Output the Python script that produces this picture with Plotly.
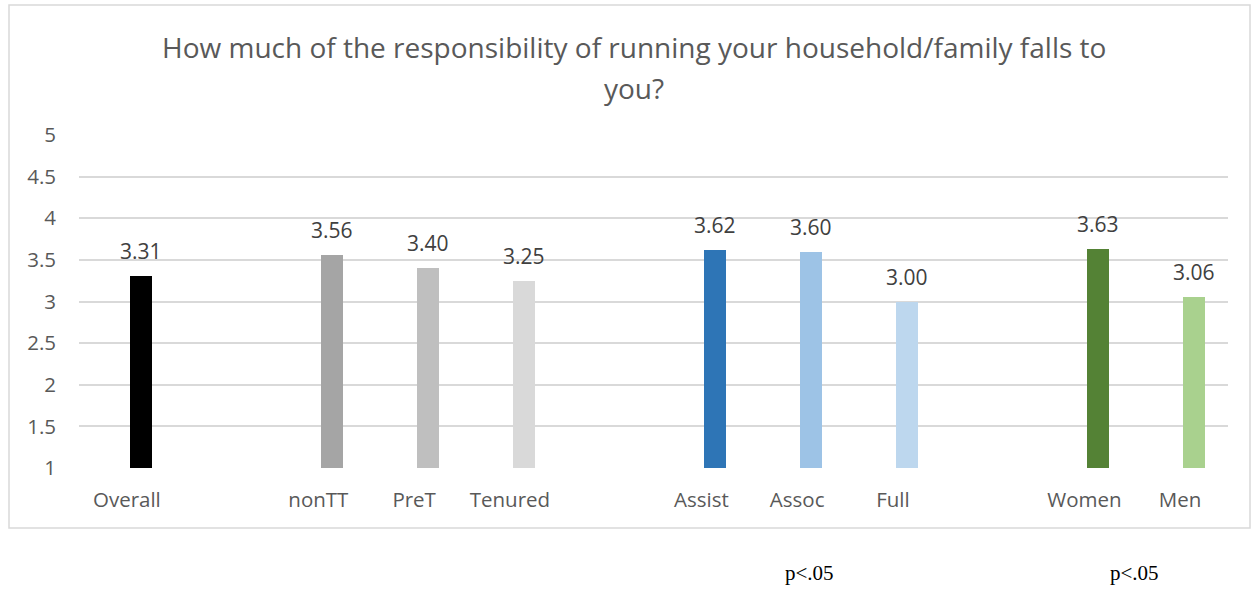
import plotly.graph_objects as go

categories = ["Overall", "", "nonTT", "PreT", "Tenured", "", "Assist", "Assoc", "Full", "", "Women", "Men"]
values = [3.31, None, 3.56, 3.40, 3.25, None, 3.62, 3.60, 3.00, None, 3.63, 3.06]
colors = ["#000000", "#ffffff", "#a5a5a5", "#bfbfbf", "#d9d9d9", "#ffffff",
          "#2e75b6", "#9dc3e6", "#bdd7ee", "#ffffff", "#548235", "#a9d18e"]
y_ticks = [1, 1.5, 2, 2.5, 3, 3.5, 4, 4.5, 5]
y_tick_labels = ["1", "1.5", "2", "2.5", "3", "3.5", "4", "4.5", "5"]
title_lines = ["How much of the responsibility of running your household/family falls to", "you?"]
notes = [(7.13, "p<.05"), (10.52, "p<.05")]

x = list(range(len(categories)))
BAR_OFFSET = 0.03
BAR_WIDTH = 0.23

fig = go.Figure()
fig.add_trace(go.Bar(
    x=x, y=values, marker=dict(color=colors, line=dict(width=0)),
    offset=BAR_OFFSET, width=BAR_WIDTH, hoverinfo="skip", showlegend=False,
))

annotations = []
for xi, v in zip(x, values):
    if v is None:
        continue
    annotations.append(dict(
        x=xi + BAR_OFFSET + BAR_WIDTH / 2, y=v, xref="x", yref="y",
        text=f"{v:.2f}", showarrow=False, yanchor="bottom", yshift=9,
        font=dict(family="Open Sans", size=21, color="#404040"),
    ))

L, R, T, B = 79, 27, 135, 121
W, H = 1255, 589
pw, ph = W - L - R, H - T - B

def px_to_paper_y(py):
    return (H - B - py) / ph

def px_to_paper_x(px):
    return (px - L) / pw

for i, (line, py) in enumerate(zip(title_lines, [47, 88])):
    annotations.append(dict(
        x=px_to_paper_x(634), y=px_to_paper_y(py), xref="paper", yref="paper",
        text=line, showarrow=False, xanchor="center", yanchor="middle",
        font=dict(family="Open Sans", size=28, color="#595959"),
    ))

for nx, ntext in notes:
    annotations.append(dict(
        x=nx, y=px_to_paper_y(573), xref="x", yref="paper",
        text=ntext, showarrow=False, xanchor="center", yanchor="middle",
        font=dict(family="Liberation Serif", size=21, color="#000000"),
    ))

fig.update_layout(
    width=W, height=H,
    margin=dict(l=L, r=R, t=T, b=B, pad=0),
    paper_bgcolor="white", plot_bgcolor="white",
    annotations=annotations,
    shapes=[dict(
        type="rect", xref="paper", yref="paper",
        x0=px_to_paper_x(9), x1=px_to_paper_x(1250),
        y0=px_to_paper_y(528), y1=px_to_paper_y(5),
        line=dict(color="#d9d9d9", width=1.5), fillcolor="rgba(0,0,0,0)", layer="below",
    )],
    xaxis=dict(
        range=[-0.5, len(categories) - 0.5],
        tickmode="array", tickvals=x, ticktext=categories,
        showgrid=False, zeroline=False, showline=False, ticks="",
        tickfont=dict(family="Open Sans", size=20.5, color="#595959"),
        ticklabelstandoff=17, fixedrange=True,
    ),
    yaxis=dict(
        range=[1, 5], tickmode="array", tickvals=y_ticks, ticktext=y_tick_labels,
        showgrid=True, gridcolor="#d9d9d9", gridwidth=1.5,
        zeroline=False, showline=False, ticks="",
        tickfont=dict(family="Open Sans", size=20.5, color="#595959"),
        ticklabelstandoff=22, fixedrange=True,
    ),
    bargap=0,
)

fig.write_html("out.html", config={"displayModeBar": False})
